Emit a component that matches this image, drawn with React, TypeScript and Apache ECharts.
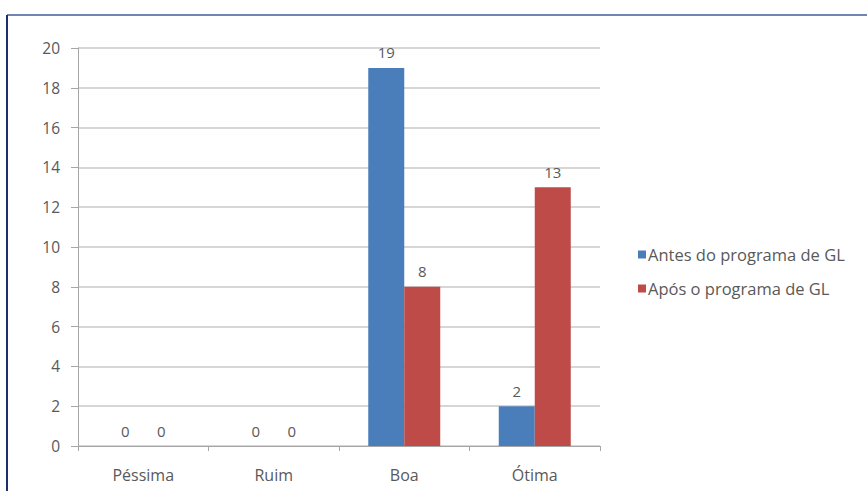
import React, { useEffect, useRef } from "react";
import * as echarts from "echarts";

const categories = ["Péssima", "Ruim", "Boa", "Ótima"];
const antes = [0, 0, 19, 2];
const apos = [0, 0, 8, 13];
const seriesNames = ["Antes do programa de GL", "Após o programa de GL"];

export default function App() {
  const ref = useRef<HTMLDivElement>(null);
  useEffect(() => {
    const chart = echarts.init(ref.current!, null, { renderer: "svg" });
    const font = "'Open Sans', Lato, sans-serif";
    const txt = "#595959";
    const label = { show: true, position: "top", distance: 8, color: txt, fontSize: 15, fontFamily: font };
    chart.setOption({
      animation: false,
      backgroundColor: "#ffffff",
      graphic: [
        { type: "line", shape: { x1: 7, y1: 15, x2: 867, y2: 15 }, style: { stroke: "#7084b4", lineWidth: 2 } },
        { type: "line", shape: { x1: 7, y1: 15, x2: 7, y2: 491 }, style: { stroke: "#1f2f6e", lineWidth: 2 } },
      ],
      grid: { left: 78, right: 267, top: 48, bottom: 45 },
      legend: {
        orient: "vertical",
        left: 633,
        top: 241,
        itemWidth: 8,
        itemHeight: 8,
        itemGap: 17,
        icon: "rect",
        textStyle: { color: txt, fontSize: 16.5, fontFamily: font, padding: [0, 0, 0, -3] },
        data: seriesNames,
      },
      xAxis: {
        type: "category",
        data: categories,
        axisLine: { lineStyle: { color: "#a6a6a6" } },
        axisTick: { show: true, length: 5, lineStyle: { color: "#a6a6a6" } },
        axisLabel: { color: txt, fontSize: 16, fontFamily: font, margin: 21 },
      },
      yAxis: {
        type: "value",
        min: 0,
        max: 20,
        interval: 2,
        axisLine: { show: true, lineStyle: { color: "#a6a6a6" } },
        axisTick: { show: true, length: 7, lineStyle: { color: "#a6a6a6" } },
        axisLabel: { color: txt, fontSize: 15.5, fontFamily: font, margin: 18 },
        splitLine: { lineStyle: { color: "#c8c8c8", width: 1.5 } },
      },
      series: [
        {
          name: seriesNames[0],
          type: "bar",
          data: antes,
          barWidth: 36,
          barGap: "0%",
          itemStyle: { color: "#4a7ebb" },
          label,
        },
        {
          name: seriesNames[1],
          type: "bar",
          data: apos,
          barWidth: 36,
          barGap: "0%",
          itemStyle: { color: "#be4b48" },
          label,
        },
      ],
    });
    return () => chart.dispose();
  }, []);
  return <div ref={ref} style={{ width: 867, height: 491, position: "absolute", left: 0, top: 0 }} />;
}
